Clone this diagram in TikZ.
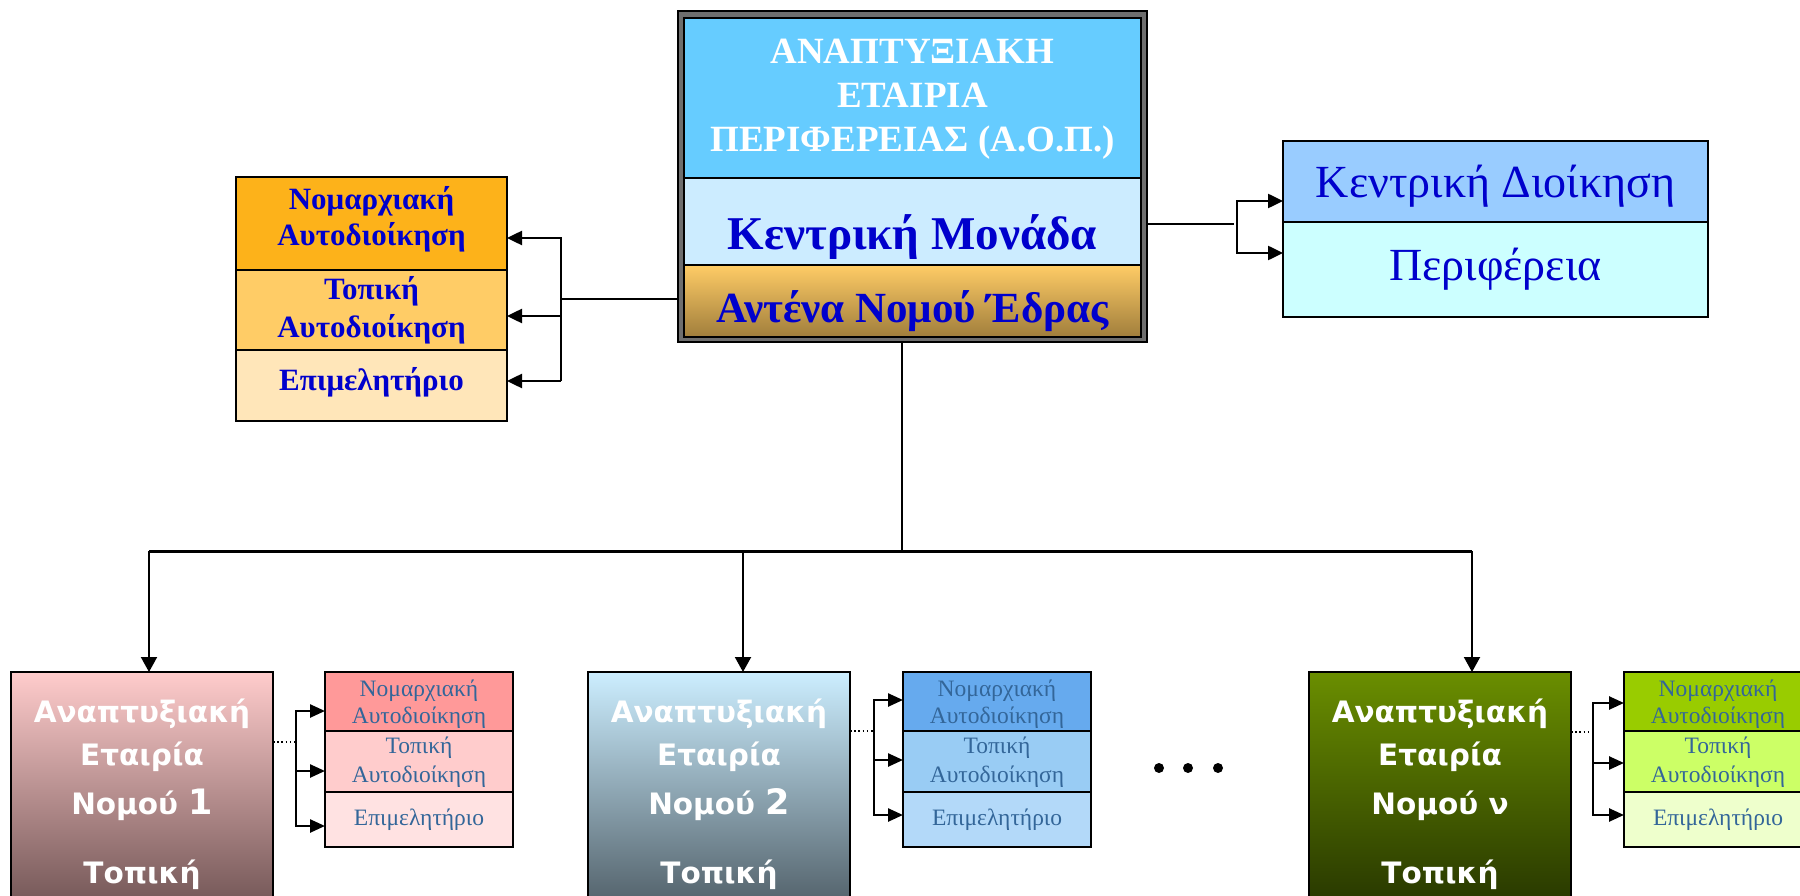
\documentclass[tikz,border=0pt]{standalone}
\usepackage{fontspec}
\setmainfont{Liberation Serif}
\newfontfamily\hsans{DejaVu Sans}
\usetikzlibrary{arrows.meta}
\definecolor{framegray}{HTML}{6E6E6E}
\definecolor{aoptop}{HTML}{66CCFF}
\definecolor{aopmid}{HTML}{CCECFF}
\definecolor{aopgoldtop}{HTML}{FFCC66}
\definecolor{aopgoldbot}{HTML}{A07E3C}
\definecolor{dblue}{HTML}{0000CC}
\definecolor{lorange}{HTML}{FDB21A}
\definecolor{lmid}{HTML}{FFCC66}
\definecolor{llight}{HTML}{FFE6B9}
\definecolor{rtop}{HTML}{99CCFF}
\definecolor{rbot}{HTML}{CCFFFF}
\definecolor{steel}{HTML}{336699}
\definecolor{bonetop}{HTML}{FFCCCC}
\definecolor{bonebot}{HTML}{745757}
\definecolor{btwotop}{HTML}{CCEEFF}
\definecolor{btwobot}{HTML}{53626B}
\definecolor{bthrtop}{HTML}{6A8E00}
\definecolor{bthrbot}{HTML}{283800}
\definecolor{sonea}{HTML}{FF9999}
\definecolor{soneb}{HTML}{FFCCCC}
\definecolor{sonec}{HTML}{FFE2E2}
\definecolor{stwoa}{HTML}{66AAEE}
\definecolor{stwob}{HTML}{99CCF4}
\definecolor{stwoc}{HTML}{B3D9F9}
\definecolor{sthra}{HTML}{99CC00}
\definecolor{sthrb}{HTML}{CCFF66}
\definecolor{sthrc}{HTML}{EEFFCC}
\begin{document}
\begin{tikzpicture}[x=1pt,y=-1pt,
  box/.style={draw=black, line width=2pt, inner sep=0pt, outer sep=0pt, anchor=north west},
  titletext/.style={anchor=base, text=white, font=\fontsize{37}{44}\selectfont\bfseries, inner sep=0pt},
  kmtext/.style={anchor=base, text=dblue, font=\fontsize{47}{50}\selectfont\bfseries, inner sep=0pt},
  anttext/.style={anchor=base, text=dblue, font=\fontsize{43}{46}\selectfont\bfseries, inner sep=0pt},
  lefttext/.style={anchor=base, text=dblue, font=\fontsize{31}{38}\selectfont\bfseries, inner sep=0pt},
  righttext/.style={anchor=base, text=dblue, font=\fontsize{46}{50}\selectfont, inner sep=0pt},
  subtext/.style={anchor=base, text=steel, font=\fontsize{23.5}{27}\selectfont, inner sep=0pt},
  bigtext/.style={anchor=base, text=white, font=\hsans\bfseries\fontsize{29.5}{36}\selectfont, inner sep=0pt},
  plainline/.style={line width=2.5pt},
  conn/.style={line width=2.5pt, -{Triangle[length=15pt,width=14pt]}},
  treeline/.style={line width=2pt},
  treebus/.style={line width=3pt},
  treearrow/.style={line width=2pt, -{Triangle[length=15pt,width=16pt]}},
  subconn/.style={line width=2.5pt, -{Triangle[length=15pt,width=13pt]}},
  dotline/.style={line width=1.6pt, dash pattern=on 1.6pt off 2.6pt}
]
\useasboundingbox (0,0) rectangle (1800,896);

% ---- main box ----
\node[box, fill=framegray, line width=2.5pt, minimum width=469, minimum height=331] (mainframe) at (678,11) {};
\node[box, fill=aoptop, minimum width=457, minimum height=160] (maintop) at (684,18) {};
\node[box, fill=aopmid, minimum width=457, minimum height=87] (mainmid) at (684,178) {};
\node[box, top color=aopgoldtop, bottom color=aopgoldbot, minimum width=457, minimum height=72] (mainbot) at (684,265) {};
\node[titletext] (tla) at (912.5,64) {ΑΝΑΠΤΥΞΙΑΚΗ};
\node[titletext] (tlb) at (912.5,108) {ΕΤΑΙΡΙΑ};
\node[titletext] (tlc) at (912.5,152) {ΠΕΡΙΦΕΡΕΙΑΣ (Α.Ο.Π.)};
\node[kmtext] (kmt) at (912.5,250) {Κεντρική Μονάδα};
\node[anttext] (antt) at (912.5,322) {Αντένα Νομού Έδρας};

% ---- left group ----
\node[box, fill=lorange, minimum width=271, minimum height=93] (lsa) at (236,177) {};
\node[box, fill=lmid, minimum width=271, minimum height=80] (lsb) at (236,270) {};
\node[box, fill=llight, minimum width=271, minimum height=71] (lsc) at (236,350) {};
\node[lefttext] (lta) at (371.5,210) {Νομαρχιακή};
\node[lefttext] (ltb) at (371.5,246) {Αυτοδιοίκηση};
\node[lefttext] (ltc) at (371.5,300) {Τοπική};
\node[lefttext] (ltd) at (371.5,337) {Αυτοδιοίκηση};
\node[lefttext] (lte) at (371.5,390) {Επιμελητήριο};
\coordinate (lm) at (561,299);
\coordinate (la) at (561,238);
\coordinate (lb) at (561,316);
\coordinate (lc) at (561,381);
\draw[plainline] (mainframe.west |- lm) -- (lm);
\draw[conn] (lc) -- (la) -- (la -| lsa.east);
\draw[conn] (lb) -- (lb -| lsb.east);
\draw[conn] (lc) -- (lc -| lsc.east);

% ---- right group ----
\node[box, fill=rtop, minimum width=425, minimum height=81] (rsa) at (1283,141) {};
\node[box, fill=rbot, minimum width=425, minimum height=95] (rsb) at (1283,222) {};
\node[righttext] (rta) at (1495.5,198) {Κεντρική Διοίκηση};
\node[righttext] (rtb) at (1495.5,280) {Περιφέρεια};
\coordinate (rm) at (1234,224);
\coordinate (ra) at (1237,201);
\coordinate (rb) at (1237,253);
\draw[plainline] (mainframe.east |- rm) -- (rm);
\draw[conn, line cap=rect] (rb) -- (ra) -- (ra -| rsa.west);
\draw[conn] (rb) -- (rb -| rsb.west);

% ---- tree ----
\coordinate (tv) at (902,551);
\coordinate (tl) at (149,551);
\coordinate (tr) at (1472,551);
\draw[treeline] (tv |- mainframe.south) -- (tv);
\draw[treebus] (tl) -- (tr);

% ---- bottom groups ----
\foreach \i/\bx/\num/\tc/\bc/\sx/\busx/\ya/\yb/\yc/\yd/\ax/\ca/\cb/\cc in {
  1/11/{\fontsize{35}{36}\selectfont 1}/bonetop/bonebot/325/296/711/771/826/742/149/sonea/soneb/sonec,
  2/588/{\fontsize{35}{36}\selectfont 2}/btwotop/btwobot/903/874/700/760/815/731/743/stwoa/stwob/stwoc,
  3/1309/ν/bthrtop/bthrbot/1624/1593/703/763/815/732/1472/sthra/sthrb/sthrc}{
  \node[box, top color=\tc, bottom color=\bc, minimum width=262, minimum height=232] (b\i) at (\bx,672) {};
  \node[bigtext] (b\i-ta) at (\bx+131,722) {Αναπτυξιακή};
  \node[bigtext] (b\i-tb) at (\bx+131,765) {Εταιρία};
  \node[bigtext] (b\i-tc) at (\bx+131,814) {Νομού \num};
  \node[bigtext] (b\i-td) at (\bx+131,883) {Τοπική};
  \node[box, fill=\ca, minimum width=188, minimum height=59] (s\i-a) at (\sx,672) {};
  \node[box, fill=\cb, minimum width=188, minimum height=61] (s\i-b) at (\sx,731) {};
  \node[box, fill=\cc, minimum width=188, minimum height=55] (s\i-c) at (\sx,792) {};
  \node[subtext] (s\i-ta) at (\sx+94,696) {Νομαρχιακή};
  \node[subtext] (s\i-tb) at (\sx+94,723) {Αυτοδιοίκηση};
  \node[subtext] (s\i-tc) at (\sx+94,753) {Τοπική};
  \node[subtext] (s\i-td) at (\sx+94,782) {Αυτοδιοίκηση};
  \node[subtext] (s\i-te) at (\sx+94,825) {Επιμελητήριο};
  \coordinate (d\i) at (\busx,\yd);
  \coordinate (p\i-a) at (\busx,\ya);
  \coordinate (p\i-b) at (\busx,\yb);
  \coordinate (p\i-c) at (\busx,\yc);
  \draw[dotline] (d\i -| b\i.east) -- (d\i);
  \draw[subconn, line cap=rect] (p\i-c) -- (p\i-a) -- (p\i-a -| s\i-a.west);
  \draw[subconn] (p\i-b) -- (p\i-b -| s\i-b.west);
  \draw[subconn] (p\i-c) -- (p\i-c -| s\i-c.west);
  \coordinate (t\i) at (\ax,551);
  \draw[treearrow] (t\i) -- (t\i |- b\i.north);
}

% ---- ellipsis dots ----
\fill (1159,768) circle (5);
\fill (1188,768) circle (5);
\fill (1218,768) circle (5);
\end{tikzpicture}
\end{document}
